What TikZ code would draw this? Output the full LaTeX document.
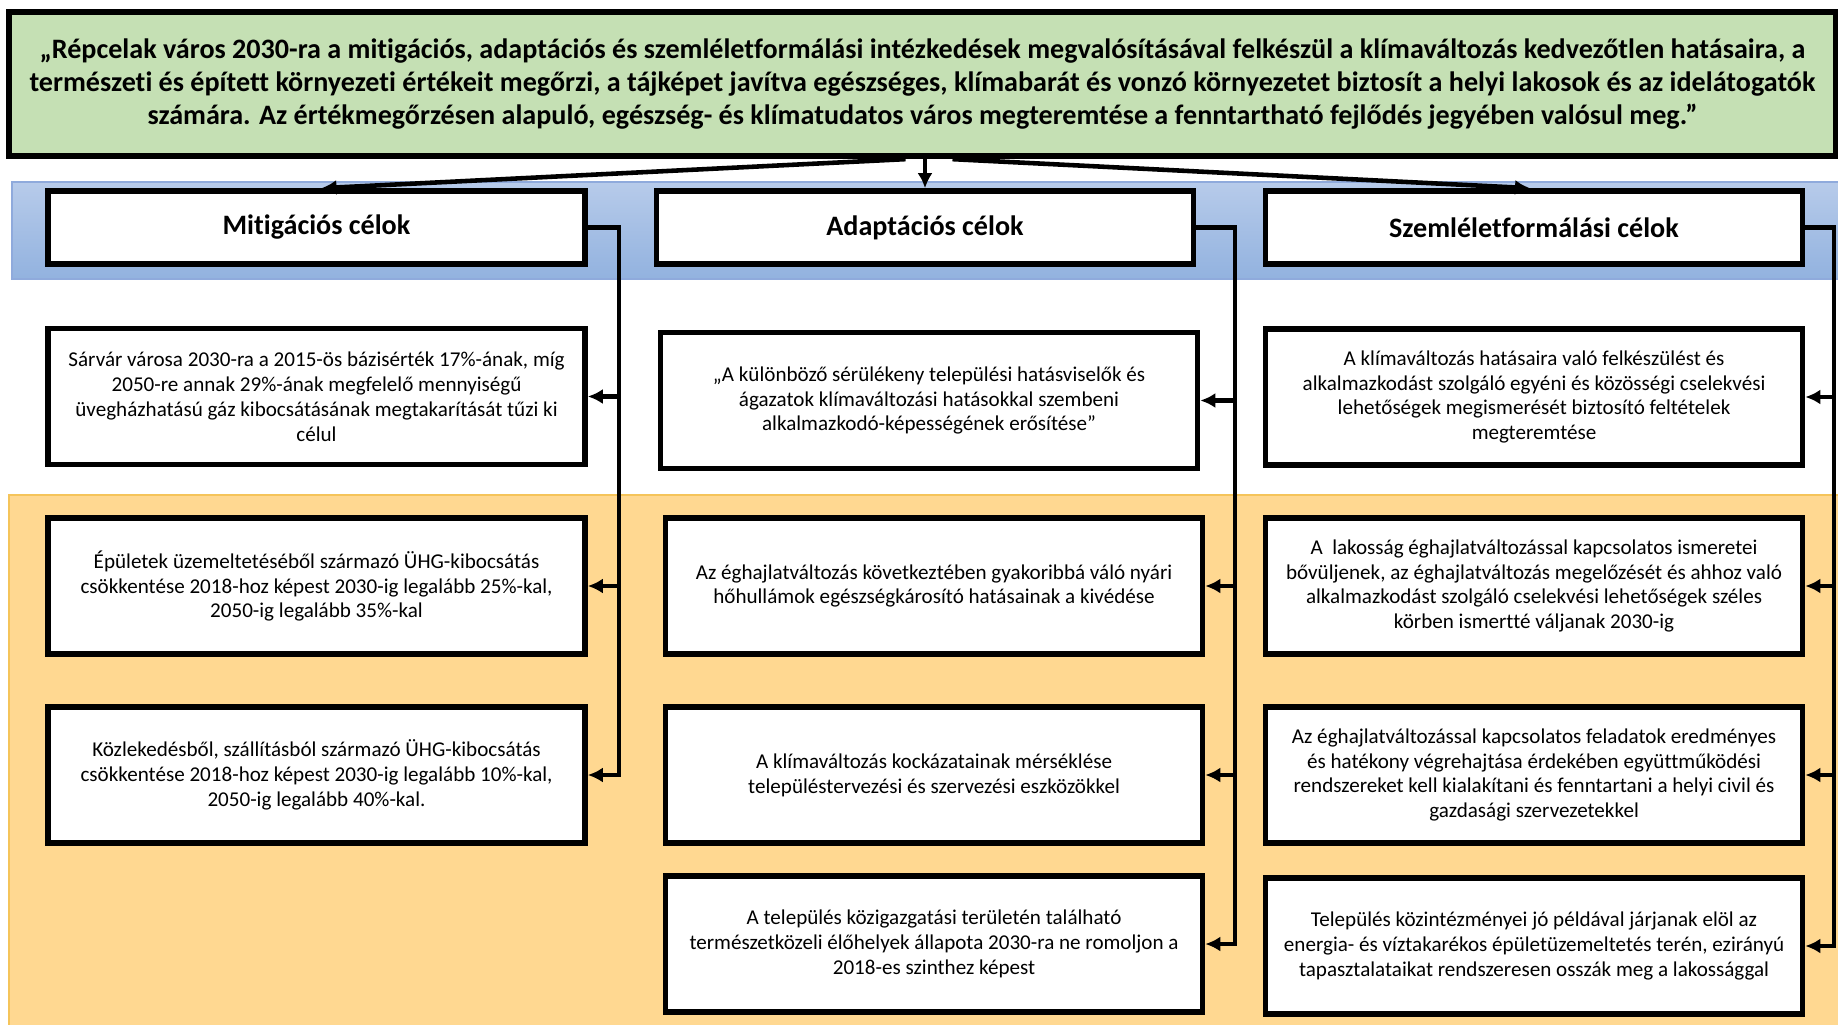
\documentclass[tikz,border=0pt]{standalone}
\usepackage{fontspec}
\setmainfont{Carlito}[Ligatures=NoCommon]
\usetikzlibrary{arrows.meta,calc}
\definecolor{topgreen}{HTML}{C5E0B4}
\definecolor{bandtop}{HTML}{B7CBEA}
\definecolor{bandbot}{HTML}{92B2DF}
\definecolor{bandline}{HTML}{8FAADC}
\definecolor{orangefill}{HTML}{FFD891}
\definecolor{orangeline}{HTML}{F5C45A}
\begin{document}
\begin{tikzpicture}[x=0.1mm,y=-0.1mm,
  box/.style={draw=black, line width=1.6pt, fill=white, align=center, inner sep=0pt,
    minimum width=53.7mm, minimum height=13.6mm, font=\fontsize{6pt}{7.1pt}\selectfont},
  hdr/.style={box, minimum height=7.3mm, font=\fontsize{8pt}{9.6pt}\selectfont\bfseries},
  conn/.style={line width=1.3pt},
  arr/.style={conn, -{Latex[length=1.5mm,width=1.5mm]}}]
\useasboundingbox (0,0) rectangle (1838,1024);
% bands
\path[draw=bandline, line width=0.4pt, top color=bandtop, bottom color=bandbot] (12,182) rectangle (1845,279);
\path[draw=orangeline, line width=0.5pt, fill=orangefill] (9,495) rectangle (1845,1030);
% top box
\node[draw=black, line width=1.8pt, fill=topgreen, inner sep=0pt, align=center,
  minimum width=182.7mm, minimum height=14.4mm, font=\fontsize{8pt}{9.4pt}\selectfont\bfseries]
  (top) at (922.5,84) {„Répcelak város 2030-ra a mitigációs, adaptációs és szemléletformálási intézkedések megvalósításával felkészül a klímaváltozás kedvezőtlen hatásaira, a\\
természeti és épített környezeti értékeit megőrzi, a tájképet javítva egészséges, klímabarát és vonzó környezetet biztosít a helyi lakosok és az idelátogatók\\
számára. Az értékmegőrzésen alapuló, egészség- és klímatudatos város megteremtése a fenntartható fejlődés jegyében valósul meg.”};
% headers
\node[hdr] (h1) at (316.5,227.5) {Mitigációs célok};
\node[hdr] (h2) at (925,227.5) {Adaptációs célok};
\node[hdr] (h3) at (1534,227.5) {Szemléletformálási célok};
% column 1
\node[box] (a1) at (316.5,396.5) {Sárvár városa 2030-ra a 2015-ös bázisérték 17\%-ának, míg\\ 2050-re annak 29\%-ának megfelelő mennyiségű\\ üvegházhatású gáz kibocsátásának megtakarítását tűzi ki\\ célul};
\node[box] (a2) at (316.5,586) {Épületek üzemeltetéséből származó ÜHG-kibocsátás\\ csökkentése 2018-hoz képest 2030-ig legalább 25\%-kal,\\ 2050-ig legalább 35\%-kal};
\node[box] (a3) at (316.5,775) {Közlekedésből, szállításból származó ÜHG-kibocsátás\\ csökkentése 2018-hoz képest 2030-ig legalább 10\%-kal,\\ 2050-ig legalább 40\%-kal.};
% column 2
\node[box] (b1) at (929,400.5) {„A különböző sérülékeny települési hatásviselők és\\ ágazatok klímaváltozási hatásokkal szembeni\\ alkalmazkodó-képességének erősítése”};
\node[box] (b2) at (934,586) {Az éghajlatváltozás következtében gyakoribbá váló nyári\\ hőhullámok egészségkárosító hatásainak a kivédése};
\node[box] (b3) at (934,775) {A klímaváltozás kockázatainak mérséklése\\ településtervezési és szervezési eszközökkel};
\node[box] (b4) at (934,944) {A település közigazgatási területén található\\ természetközeli élőhelyek állapota 2030-ra ne romoljon a\\ 2018-es szinthez képest};
% column 3
\node[box] (c1) at (1534,397) {A klímaváltozás hatásaira való felkészülést és\\ alkalmazkodást szolgáló egyéni és közösségi cselekvési\\ lehetőségek megismerését biztosító feltételek\\ megteremtése};
\node[box] (c2) at (1534,586) {A\ \ lakosság éghajlatváltozással kapcsolatos ismeretei\\ bővüljenek, az éghajlatváltozás megelőzését és ahhoz való\\ alkalmazkodást szolgáló cselekvési lehetőségek széles\\ körben ismertté váljanak 2030-ig};
\node[box] (c3) at (1534,775) {Az éghajlatváltozással kapcsolatos feladatok eredményes\\ és hatékony végrehajtása érdekében együttműködési\\ rendszereket kell kialakítani és fenntartani a helyi civil és\\ gazdasági szervezetekkel};
\node[box] (c4) at (1534,946) {Település közintézményei jó példával járjanak elöl az\\ energia- és víztakarékos épületüzemeltetés terén, ezirányú\\ tapasztalataikat rendszeresen osszák meg a lakossággal};
% spine coordinates
\coordinate (s1) at (619,0);
\coordinate (s2) at (1235,0);
\coordinate (s3) at (1834,0);
% top connectors
\draw[arr] ($(top.south)+(-17,0)$) -- ($(h1.north)+(5,0)$);
\draw[arr] (top.south -| h2.north) -- (h2.north);
\draw[arr] ($(top.south)+(30,0)$) -- ($(h3.north)+(-4,0)$);
% column 1 connectors
\draw[arr] (h1.east) -| (a3.east -| s1) -- (a3.east);
\draw[arr] (a1.east -| s1) -- (a1.east);
\draw[arr] (a2.east -| s1) -- (a2.east);
% column 2 connectors
\draw[arr] (h2.east) -| (b4.east -| s2) -- (b4.east);
\draw[arr] (b1.east -| s2) -- (b1.east);
\draw[arr] (b2.east -| s2) -- (b2.east);
\draw[arr] (b3.east -| s2) -- (b3.east);
% column 3 connectors
\draw[arr] (h3.east) -| (c4.east -| s3) -- (c4.east);
\draw[arr] (c1.east -| s3) -- (c1.east);
\draw[arr] (c2.east -| s3) -- (c2.east);
\draw[arr] (c3.east -| s3) -- (c3.east);
\end{tikzpicture}
\end{document}
